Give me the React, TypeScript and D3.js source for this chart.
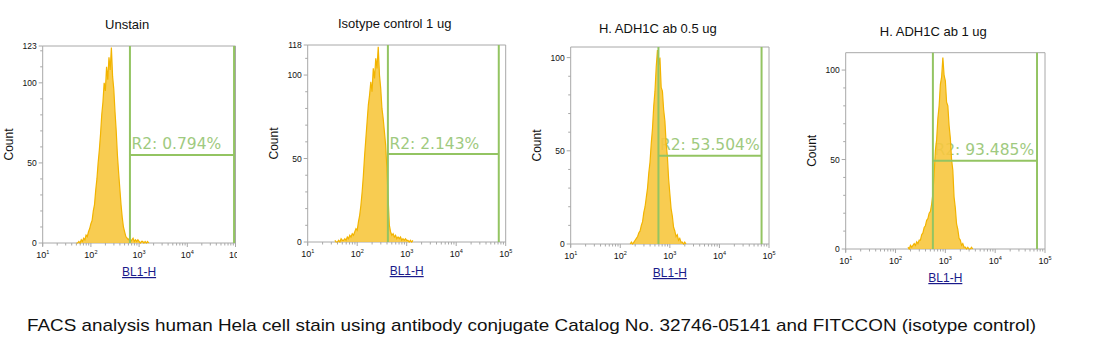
import React from 'react';
import * as d3 from 'd3';

// ---------- DATA ----------
const BIN_STEP = 0.025; // log10 width of a histogram channel

const unstainStart = 1.7;
const unstainCounts = [0, 0, 1, 0, 2, 1, 3, 2, 5, 4, 7, 9, 12, 14, 20, 24, 33, 40, 50, 58, 68, 80, 88, 100, 95, 110, 102, 116, 108, 122, 104, 96, 82, 70, 55, 44, 34, 24, 16, 10, 7, 4, 3, 2, 3, 1, 2, 3, 1, 2, 1, 2, 1, 0, 1, 1, 0, 1, 0, 1, 0];

const isotypeStart = 1.55;
const isotypeCounts = [1, 0, 0, 1, 0, 2, 1, 1, 2, 1, 3, 2, 4, 3, 5, 4, 6, 8, 7, 12, 16, 22, 30, 40, 52, 62, 72, 82, 88, 96, 90, 104, 98, 110, 104, 117, 100, 92, 80, 74, 66, 58, 44, 26, 10, 6, 4, 5, 3, 4, 2, 3, 2, 3, 1, 2, 1, 2, 1, 1, 0, 1, 0, 1];

const ab05Start = 2.2;
const ab05Counts = [0, 1, 0, 1, 2, 3, 4, 6, 7, 10, 12, 17, 20, 25, 30, 38, 44, 54, 62, 74, 82, 95, 104, 96, 100, 84, 82, 72, 66, 54, 47, 35, 27, 19, 15, 9, 7, 4, 5, 2, 3, 1, 1, 0, 1, 0];

const ab1Start = 2.25;
const ab1Counts = [1, 0, 2, 1, 2, 3, 2, 4, 3, 5, 5, 8, 9, 12, 13, 16, 17, 20, 21, 25, 31, 42, 55, 61, 73, 80, 92, 96, 107, 97, 94, 82, 80, 69, 62, 50, 44, 29, 23, 14, 11, 6, 5, 2, 3, 1, 1, 0, 1, 0, 0, 1, 0];

const panelTitles = ['Unstain', 'Isotype control 1 ug', 'H. ADH1C ab 0.5 ug', 'H. ADH1C ab 1 ug'];
const gateLabels = ['R2: 0.794%', 'R2: 2.143%', 'R2: 53.504%', 'R2: 93.485%'];
const gateLow = [2.81, 2.62, 2.77, 2.75];   // log10 of left gate edge
const gateHigh = [4.97, 4.86, 4.85, 4.84];  // log10 of right gate edge
const gateLevel = [55, 52.7, 47.4, 49.3];   // count level of gate bar
const yMaxes = [123, 118, 105.7, 109.7];
const yMajorTicks = [[0, 50, 100, 123], [0, 50, 100, 118], [0, 50, 100], [0, 50, 100]];
const xDecades = [1, 2, 3, 4, 5];
const xAxisLabel = 'BL1-H';
const yAxisLabel = 'Count';
const caption = 'FACS analysis human Hela cell stain using antibody conjugate Catalog No. 32746-05141 and FITCCON (isotype control)';

const histStarts = [unstainStart, isotypeStart, ab05Start, ab1Start];
const histCounts = [unstainCounts, isotypeCounts, ab05Counts, ab1Counts];

// ---------- LAYOUT ----------
const layouts = [
  { left: 42.7, top: 46, right: 235.5, bottom: 243, titleY: 29.3, clip: 237 },
  { left: 307.7, top: 45, right: 505.7, bottom: 242, titleY: 28.3, clip: 1117 },
  { left: 570.7, top: 47, right: 769, bottom: 244, titleY: 33.3, clip: 1117 },
  { left: 845.7, top: 52.7, right: 1045, bottom: 249, titleY: 35.7, clip: 1117 },
];

const SANS = '"Liberation Sans", Arial, sans-serif';
const AXIS = '#a8a8a8';
const GATE = '#93c462';
const GATE_TEXT = '#9fca80';
const HIST_STROKE = '#f2b400';
const HIST_FILL = '#f7c73e';

function Panel({ i }: { i: number }) {
  const L = layouts[i];
  const x = d3.scaleLog().domain([10, 1e5]).range([L.left, L.right]);
  const y = d3.scaleLinear().domain([0, yMaxes[i]]).range([L.bottom, L.top]);
  const counts = histCounts[i];
  const start = histStarts[i];
  const pts: [number, number][] = counts.map((c, k) => [Math.pow(10, start + k * BIN_STEP), c]);
  const area = d3.area<[number, number]>()
    .x(d => x(d[0]))
    .y0(y(0))
    .y1(d => y(d[1]));
  const line = d3.line<[number, number]>().x(d => x(d[0])).y(d => y(d[1]));

  const minorX: number[] = [];
  for (let d = 1; d < 5; d++) for (let k = 2; k <= 9; k++) minorX.push(k * Math.pow(10, d));
  const minorY = d3.range(10, yMaxes[i], 10).filter(v => v % 50 !== 0);

  const gx0 = x(Math.pow(10, gateLow[i]));
  const gx1 = x(Math.pow(10, gateHigh[i]));
  const gy = y(gateLevel[i]);
  const cx = (L.left + L.right) / 2;
  const cy = (L.top + L.bottom) / 2;
  const clipId = `clip${i}`;

  return (
    <g clipPath={`url(#${clipId})`}>
      <defs>
        <clipPath id={clipId}>
          <rect x={0} y={0} width={L.clip} height={358} />
        </clipPath>
      </defs>
      <text x={cx - 12} y={L.titleY} textAnchor="middle" fontFamily={SANS} fontSize={13} fill="#111">{panelTitles[i]}</text>
      {/* frame */}
      <line x1={L.left} x2={L.right} y1={L.top} y2={L.top} stroke={AXIS} />
      <line x1={L.right} x2={L.right} y1={L.top} y2={L.bottom} stroke={AXIS} />
      <line x1={L.left} x2={L.left} y1={L.top} y2={L.bottom + 3} stroke={AXIS} />
      <line x1={L.left} x2={L.right} y1={L.bottom} y2={L.bottom} stroke={AXIS} />
      {/* y ticks */}
      {yMajorTicks[i].map(v => (
        <g key={'ym' + v}>
          <line x1={L.left - 4} x2={L.left} y1={y(v)} y2={y(v)} stroke={AXIS} />
          <text x={L.left - 6} y={y(v) + 3} textAnchor="end" fontFamily={SANS} fontSize={8.5} fill="#111">{v}</text>
        </g>
      ))}
      {minorY.map(v => (
        <line key={'yn' + v} x1={L.left - 2.5} x2={L.left} y1={y(v)} y2={y(v)} stroke={AXIS} />
      ))}
      {/* x ticks */}
      {xDecades.map(d => (
        <g key={'xm' + d}>
          <line x1={x(Math.pow(10, d))} x2={x(Math.pow(10, d))} y1={L.bottom} y2={L.bottom + 4} stroke={AXIS} />
          <text x={x(Math.pow(10, d))} y={L.bottom + 15} textAnchor="middle" fontFamily={SANS} fontSize={9} fill="#111">
            <tspan>10</tspan>
            <tspan fontSize={5.5} dy={-4.5}>{d}</tspan>
          </text>
        </g>
      ))}
      {minorX.map(v => (
        <line key={'xn' + v} x1={x(v)} x2={x(v)} y1={L.bottom} y2={L.bottom + 2.5} stroke={AXIS} />
      ))}
      {/* axis titles */}
      <text transform={`translate(${L.left - 30},${cy}) rotate(-90)`} textAnchor="middle" fontFamily={SANS} fontSize={12} fill="#111">{yAxisLabel}</text>
      <text x={cx} y={L.bottom + 33} textAnchor="middle" fontFamily={SANS} fontSize={12} fill="#1a1a8a" textDecoration="underline">{xAxisLabel}</text>
      {/* gate label (drawn beneath histogram) */}
      <text x={gx0 + 1.5} y={gy - 5.5} fontFamily='"DejaVu Sans", Verdana, sans-serif' fontSize={15.5} fill={GATE_TEXT}>{gateLabels[i]}</text>
      {/* histogram */}
      <path d={area(pts) || ''} fill={HIST_FILL} fillOpacity={0.9} stroke="none" />
      <path d={line(pts) || ''} fill="none" stroke={HIST_STROKE} strokeWidth={1.2} />
      {/* gate */}
      <line x1={gx0} x2={gx0} y1={L.top} y2={L.bottom} stroke={GATE} strokeWidth={2} />
      <line x1={gx1} x2={gx1} y1={L.top} y2={L.bottom} stroke={GATE} strokeWidth={2} />
      <line x1={gx0} x2={gx1} y1={gy} y2={gy} stroke={GATE} strokeWidth={2} />
    </g>
  );
}

export default function App() {
  return (
    <svg width={1117} height={358} style={{ position: 'absolute', left: 0, top: 0, background: '#fff' }}>
      <rect x={0} y={0} width={1117} height={358} fill="#fff" />
      {[0, 1, 2, 3].map(i => <Panel key={i} i={i} />)}
      <text x={27} y={331} fontFamily={SANS} fontSize={17} fill="#111" textLength={1009} lengthAdjust="spacingAndGlyphs">{caption}</text>
    </svg>
  );
}
